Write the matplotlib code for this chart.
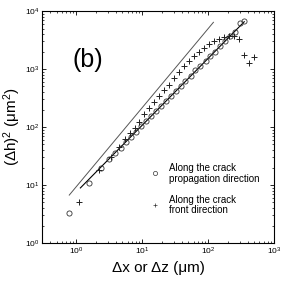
import numpy as np
import matplotlib
matplotlib.use("Agg")
import matplotlib.pyplot as plt

plt.rcParams['font.family'] = ['Liberation Sans', 'DejaVu Sans']
plt.rcParams['mathtext.default'] = 'regular'

# along the crack propagation direction (circles)
propX = [0.78, 1.56, 2.34, 3.12, 3.9, 4.68, 5.6, 6.7, 8.0, 9.5, 11.3, 13.4, 16, 19,
         22.6, 26.9, 32, 38, 45, 54, 64, 76, 91, 108, 128, 152, 181, 215, 256, 300, 355]
propY = [3.3, 10.9, 19.4, 27.7, 35.7, 44.3, 54.8, 67.8, 83.6, 103, 126, 154, 190, 230,
         282, 347, 426, 516, 630, 773, 944, 1132, 1400, 1675, 2000, 2455, 3020, 3690,
         4400, 6200, 6700]

# along the crack front direction (plus)
frontX = [1.1, 2.2, 3.3, 4.4, 5.5, 6.6, 7.7, 9.0, 10.7, 12.7, 15.1, 18.0, 21.4, 25.5,
          30.3, 36, 43, 51, 61, 72, 86, 102, 122, 145, 172, 205, 244, 290, 345, 411, 489]
frontY = [5.1, 18, 31, 46, 62, 80, 98, 124, 170, 215, 270, 345, 430, 540, 690, 880,
          1130, 1400, 1650, 2000, 2300, 2650, 3000, 3300, 3550, 3700, 3700, 3250, 1750,
          1250, 1600]

# fitted power laws (end points)
steepX = [0.78, 120]
steepY = [6.7, 6400]
fitX = [1.15, 352]
fitY = [8.9, 6540]

fig = plt.figure(figsize=(2.91, 2.91), dpi=100)
ax = fig.add_axes([0.144, 0.165, 0.798, 0.797])

ax.plot(steepX, steepY, color='#555555', linewidth=0.7)
ax.plot(fitX, fitY, color='black', linewidth=0.8)
ax.plot(propX, propY, linestyle='none', marker='o', markersize=3.7, markerfacecolor='none',
        markeredgecolor='#333333', markeredgewidth=0.6)
ax.plot(frontX, frontY, linestyle='none', marker='+', markersize=4.5, color='#222222',
        markeredgewidth=0.7)

ax.set_xscale('log')
ax.set_yscale('log')
ax.set_xlim(0.3, 1000)
ax.set_ylim(1, 10000)

ax.tick_params(which='both', direction='in', top=True, right=True, labelsize=6, pad=2)
ax.tick_params(which='major', length=3, width=0.6)
ax.tick_params(which='minor', length=1.5, width=0.5)
for s in ax.spines.values():
    s.set_linewidth(0.8)

ax.set_xlabel('Δx or Δz (μm)', fontsize=11, labelpad=3)
ax.set_ylabel('(Δh)$^2$ (μm$^2$)', fontsize=11)
ax.yaxis.set_label_coords(-0.082, 0.5)

ax.text(0.13, 0.79, '(b)', transform=ax.transAxes, fontsize=18, va='center')

# legend drawn by hand like the original
ax.plot([0.487], [0.30], transform=ax.transAxes, marker='o', markersize=3,
        markerfacecolor='none', markeredgecolor='#333333', markeredgewidth=0.5)
ax.text(0.547, 0.30, 'Along the crack\npropagation direction', transform=ax.transAxes,
        fontsize=7, va='center', linespacing=1.05)
ax.plot([0.487], [0.164], transform=ax.transAxes, marker='+', markersize=3.5,
        color='#333333', markeredgewidth=0.5)
ax.text(0.547, 0.164, 'Along the crack\nfront direction', transform=ax.transAxes,
        fontsize=7, va='center', linespacing=1.05)

fig.savefig('out.png', dpi=100)
